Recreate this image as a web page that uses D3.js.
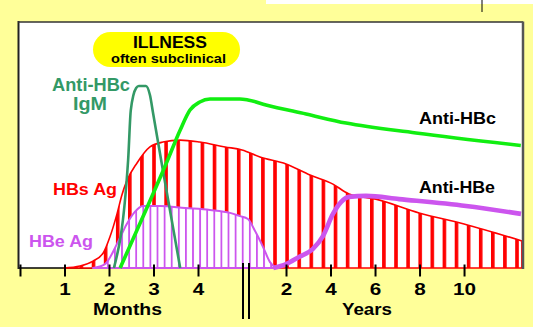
<!DOCTYPE html>
<html><head><meta charset="utf-8">
<script src="https://cdn.jsdelivr.net/npm/d3@7"></script>
<style>html,body{margin:0;padding:0;background:#FFFF99;}svg{display:block;}</style>
</head><body>
<script>
// ---- data (unit "m" = months, "y" = years ; value = % of plot height) ----
const monthTicks = [0, 1, 2, 3, 4];
const yearTicks = [2, 4, 6, 8, 10];
const hbsAg = [["m",0.99,0],["m",1.35,0.8],["m",1.64,2.8],["m",1.87,6.1],["m",2.02,12.6],["m",2.18,22],["m",2.29,29.7],["m",2.40,35.4],["m",2.63,42.7],["m",2.92,49.2],["m",3.21,51.2],["m",3.60,52],["m",4.04,51.2],["m",4.61,49.2],["m",4.99,48],
  ["y",0.83,45.1],["y",2,42.3],["y",3.08,37.8],["y",4.11,34.1],["y",4.83,30.1],["y",6.04,28],["y",7.98,22.4],["y",10,17.9],["y",12.6,11]];
const hbeAg = [["m",1.64,0],["m",1.91,1.6],["m",2.18,9.8],["m",2.40,17.9],["m",2.58,22.8],["m",2.76,25.2],["m",3.15,25.2],["m",3.71,24.4],["m",4.27,23.6],["m",4.72,22.4],["m",4.94,21.1],
  ["y",0.29,19.9],["y",0.61,15],["y",0.97,8.5],["y",1.28,2.4],["y",1.55,0]];
const antiHBcIgM = [["m",2.11,0],["m",2.43,43.9],["m",2.49,64.2],["m",2.61,73.2],["m",2.67,74],["m",2.83,74],["m",2.92,70.3],["m",2.99,63],["m",3.21,39.8],["m",3.60,0]];
const antiHBc = [["m",2.25,0],["m",2.76,20.7],["m",3.30,43.1],["m",3.60,56.1],["m",3.82,64.2],["m",4.04,67.5],["m",4.27,68.7],["m",4.94,68.7],
  ["y",0.29,68.3],["y",1.10,66.3],["y",2.9,62.6],["y",4.70,58.9],["y",7.84,54.9],["y",12.55,49.8]];
const antiHBe = [["y",1.43,0],["y",2,1.6],["y",2.58,4.5],["y",3.2,7.7],["y",3.66,13],["y",4.11,22],["y",4.47,26.8],["y",4.83,28.9],["y",5.6,29.3],["y",7.08,28],["y",10.09,25.2],["y",12.56,22]];

const W = 533, H = 327;
const RED = "#FF0000", PURPLE = "#CC55EE", TEAL = "#339966", GREEN = "#11EE11";
const FONT = "'Liberation Sans', Arial, Helvetica, sans-serif";

const svg = d3.select("body").append("svg").attr("width", W).attr("height", H);
svg.append("rect").attr("width", W).attr("height", H).attr("fill", "#FFFF99");
// top-right scan artefacts
svg.append("rect").attr("x", 266).attr("y", 0).attr("width", 267).attr("height", 4).attr("fill", "#fff");
svg.append("line").attr("x1", 482).attr("x2", 482).attr("y1", 0).attr("y2", 12).attr("stroke", "#000").attr("stroke-width", 1);

const xM = d3.scaleLinear().domain([0, 5]).range([20, 242.5]);
const xY = d3.scaleLinear().domain([0, 12.6]).range([241.5, 521.9]);
const y = d3.scaleLinear().domain([0, 100]).range([268, 22]);
const px = d => d[0] === "m" ? xM(d[1]) : xY(d[1]);

// patterns
const defs = svg.append("defs");
const pr = defs.append("pattern").attr("id", "redStripes").attr("patternUnits", "userSpaceOnUse")
  .attr("x", 285.3).attr("y", 0).attr("width", 12.1).attr("height", 10);
pr.append("rect").attr("width", 12.1).attr("height", 10).attr("fill", "#fff");
pr.append("rect").attr("width", 3.6).attr("height", 10).attr("fill", RED);
const pp = defs.append("pattern").attr("id", "purpleStripes").attr("patternUnits", "userSpaceOnUse")
  .attr("x", 149.5).attr("y", 0).attr("width", 7.1).attr("height", 10);
pp.append("rect").attr("width", 7.1).attr("height", 10).attr("fill", "#fff");
pp.append("rect").attr("width", 1.8).attr("height", 10).attr("fill", PURPLE);

// plot background
svg.append("rect").attr("x", 19).attr("y", 22).attr("width", 503).attr("height", 246).attr("fill", "#fff");

// base axis line
svg.append("line").attr("x1", 19).attr("x2", 242).attr("y1", 268).attr("y2", 268).attr("stroke", "#000").attr("stroke-width", 1.5);

const area = d3.area().x(px).y0(y(0)).y1(d => y(d[2])).curve(d3.curveMonotoneX);
const line = d3.line().x(px).y(d => y(d[2])).curve(d3.curveMonotoneX);

svg.append("path").datum(hbsAg).attr("d", area).attr("fill", "url(#redStripes)")
  .attr("stroke", RED).attr("stroke-width", 1.6).attr("stroke-linejoin", "round");
svg.append("path").datum(hbeAg).attr("d", area).attr("fill", "url(#purpleStripes)")
  .attr("stroke", PURPLE).attr("stroke-width", 2).attr("stroke-linejoin", "round");
svg.append("path").datum(antiHBcIgM).attr("d", line).attr("fill", "none")
  .attr("stroke", TEAL).attr("stroke-width", 2.6).attr("stroke-linejoin", "round");
svg.append("path").datum(antiHBc).attr("d", line).attr("fill", "none")
  .attr("stroke", GREEN).attr("stroke-width", 3.6).attr("stroke-linejoin", "round");
svg.append("path").datum(antiHBe).attr("d", line).attr("fill", "none")
  .attr("stroke", PURPLE).attr("stroke-width", 4.6).attr("stroke-linejoin", "round");

// borders
svg.append("line").attr("x1", 18.5).attr("x2", 18.5).attr("y1", 21).attr("y2", 269).attr("stroke", "#222").attr("stroke-width", 2);
svg.append("line").attr("x1", 18).attr("x2", 523).attr("y1", 22).attr("y2", 22).attr("stroke", "#333").attr("stroke-width", 1.5);
svg.append("line").attr("x1", 523).attr("x2", 523).attr("y1", 21.5).attr("y2", 269).attr("stroke", "#555").attr("stroke-width", 2.5);

// axes
function styleAxis(g) {
  g.select(".domain").remove();
  g.selectAll(".tick line").attr("stroke", "#000").attr("stroke-width", 2);
  g.selectAll(".tick text").attr("y", 30.5).attr("dy", 0).attr("fill", "#000")
    .attr("textLength", d => String(d).length * 11.5).attr("lengthAdjust", "spacingAndGlyphs")
    .style("font-family", FONT).style("font-weight", "bold").style("font-size", "16px");
}
svg.append("g").attr("transform", "translate(0,264.5)")
  .call(d3.axisBottom(xM).tickValues(monthTicks).tickSize(12).tickFormat(d => d === 0 ? "" : d))
  .call(styleAxis);
svg.append("g").attr("transform", "translate(0,264.5)")
  .call(d3.axisBottom(xY).tickValues(yearTicks).tickSize(12).tickFormat(d => d))
  .call(styleAxis);

// axis break
[243, 249].forEach(x => svg.append("line").attr("x1", x).attr("x2", x).attr("y1", 263).attr("y2", 319)
  .attr("stroke", "#000").attr("stroke-width", 2));

// illness pill
svg.append("rect").attr("x", 93).attr("y", 32).attr("width", 147).attr("height", 35).attr("rx", 17.5).attr("fill", "#FFFF00");

function label(txt, x, yb, size, color, len) {
  svg.append("text").attr("x", x).attr("y", yb).text(txt)
    .attr("fill", color).attr("textLength", len).attr("lengthAdjust", "spacingAndGlyphs")
    .style("font-family", FONT).style("font-weight", "bold").style("font-size", size + "px");
}
label("ILLNESS", 133, 48, 16.5, "#000", 74);
label("often subclinical", 111, 63, 13, "#000", 115);
label("Anti-HBc", 52, 91, 18, TEAL, 78);
label("IgM", 73, 110, 18, TEAL, 34);
label("Anti-HBc", 419, 124, 17, "#000", 77);
label("Anti-HBe", 419, 193, 16.5, "#000", 76);
label("HBs Ag", 53, 195, 17, RED, 64);
label("HBe Ag", 29, 247, 17, PURPLE, 64);
label("Months", 93, 315, 17, "#000", 69);
label("Years", 342, 314.5, 17, "#000", 50);
</script>
</body></html>
